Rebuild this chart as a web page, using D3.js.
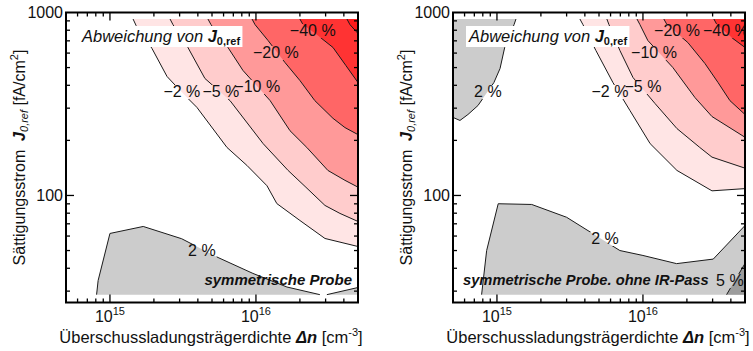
<!DOCTYPE html>
<html><head><meta charset="utf-8">
<script src="https://cdn.jsdelivr.net/npm/d3@7"></script>
<style>
html,body{margin:0;padding:0;background:#fff;}
svg{display:block;font-family:"Liberation Sans",Arial,Helvetica,sans-serif;}
</style></head><body>
<svg id="chart" width="753" height="351"></svg>
<script>
// ---- axes ----
const dnDomain = [5e14, 5e16];          // Überschussladungsträgerdichte [cm^-3]
const j0Domain = [26, 1000];            // Sättigungsstrom [fA/cm^2]
const gridDn = [5e14, 5e16];            // extent of the computed grid
const gridJ0 = [28.7, 921];
const xMajorTicks = [1e15, 1e16];
const xMajorExp = ["15", "16"];
const yMajorTicks = [100, 1000];
const yMajorLabels = ["100", "1000"];

// ---- fill colours per contour level (%) ----
const levelColors = {"-2": "#ffe5e5", "-5": "#ffcccc", "-10": "#ff9999", "-20": "#ff6666",
                     "-40": "#ff3333", "-60": "#ff1a1a", "2": "#cccccc", "5": "#9c9c9c"};

// ---- panel 1: symmetrische Probe ----
const symM2  = [[1.44e15,921],[1.51e15,849],[1.94e15,636],[2.46e15,447],[3.11e15,366],[3.94e15,303],[6.33e15,183],[8.67e15,146],[1.19e16,113],[1.39e16,90.3],[2.0e16,73.0],[2.97e16,58.2],[5e16,52.6]];
const symM5  = [[2.58e15,921],[2.70e15,859],[3.42e15,644],[4.47e15,436],[6.64e15,330],[1.12e16,192],[1.66e16,137],[2.17e16,112],[2.97e16,88.2],[3.76e16,79.8],[5e16,72.1]];
const symM10 = [[4.69e15,921],[4.92e15,859],[6.43e15,644],[8.15e15,482],[1.25e16,330],[1.71e16,226],[2.23e16,183],[3.11e16,137],[4.07e16,121],[5e16,111]];
const symM20 = [[9.4e15,921],[9.85e15,859],[1.21e16,703],[1.58e16,533],[2.0e16,425],[2.53e16,330],[3.37e16,264],[4.07e16,235],[5e16,215]];
const symM40 = [[2.0e16,921],[2.10e16,859],[2.66e16,748],[3.37e16,644],[4.13e16,513],[5e16,414]];
const symM60 = [[4.2e16,921],[4.40e16,859],[5e16,768]];
const symP2a = [[8.1e14,28.7],[8.3e14,34.3],[1.0e15,62.0],[1.69e15,67.7],[3.10e15,58.0],[5.5e15,45.8],[9.53e15,37.5],[1.63e16,31.6],[2.74e16,28.7]];
const symP2b = [[3.06e16,28.7],[5e16,31.4]];
const symLabels = [
  {t:"\u22122 %", dn:3.11e15, j0:370}, {t:"\u22125 %", dn:5.75e15, j0:370},
  {t:"\u221210 %", dn:1.02e16, j0:394}, {t:"\u221220 %", dn:1.37e16, j0:604},
  {t:"\u221240 %", dn:2.45e16, j0:798}, {t:"2 %", dn:4.26e15, j0:50.0}];

// ---- panel 2: symmetrische Probe, ohne IR-Pass ----
const irP2top = [[1.35e15,921],[1.31e15,859],[1.13e15,644],[1.05e15,494],[9.53e14,414],[7.41e14,310],[6.33e14,277],[5.58e14,257],[5e14,267]];
const irM2  = [[3.70e15,921],[3.88e15,859],[4.76e15,620],[6.23e15,414],[8.15e15,291],[1.12e16,192],[1.71e16,137],[2.97e16,106],[5e16,109]];
const irM5  = [[5.66e15,921],[5.85e15,859],[6.95e15,620],[8.55e15,441],[1.21e16,318],[1.71e16,232],[2.45e16,183],[2.97e16,162],[5e16,141]];
const irM10 = [[9.1e15,921],[9.53e15,859],[1.08e16,703],[1.60e16,501],[2.27e16,343],[2.97e16,270],[5e16,208]];
const irM20 = [[1.39e16,921],[1.46e16,859],[2.03e16,685],[2.66e16,526],[3.27e16,414],[3.94e16,330],[5e16,277]];
const irM40 = [[3.06e16,921],[3.21e16,859],[4.13e16,721],[5e16,644]];
const irP2b = [[7.85e14,28.7],[8.5e14,50.0],[1.02e15,90.1],[1.73e15,89.3],[3.0e15,76.0],[6.95e15,50.0],[1.0e16,47.0],[1.70e16,42.4],[3.03e16,44.9],[5e16,68.5]];
const irP5  = [[3.74e16,28.7],[5e16,42.5]];
const irLabels = [
  {t:"\u22122 %", dn:5.94e15, j0:370}, {t:"\u22125 %", dn:1.0e16, j0:394},
  {t:"\u221210 %", dn:1.19e16, j0:604}, {t:"\u221220 %", dn:1.71e16, j0:798},
  {t:"\u221240 %", dn:3.70e16, j0:798}, {t:"2 %", dn:8.67e14, j0:370},
  {t:"2 %", dn:5.5e15, j0:58.2}, {t:"5 %", dn:3.94e16, j0:34.3}];

// closing corners: "tr" top-right, "tl" top-left, "br" bottom-right, "b" along the bottom edge
const panels = [
  {x0: 66, regions: [
     {level:"-2", pts:symM2, close:"tr"}, {level:"-5", pts:symM5, close:"tr"},
     {level:"-10", pts:symM10, close:"tr"}, {level:"-20", pts:symM20, close:"tr"},
     {level:"-40", pts:symM40, close:"tr"}, {level:"-60", pts:symM60, close:"tr"},
     {level:"2", pts:symP2a, close:"b"}, {level:"2", pts:symP2b, close:"br"}],
   labels: symLabels, note: "symmetrische Probe", noteAnchor: "end"},
  {x0: 453, regions: [
     {level:"-2", pts:irM2, close:"tr"}, {level:"-5", pts:irM5, close:"tr"},
     {level:"-10", pts:irM10, close:"tr"}, {level:"-20", pts:irM20, close:"tr"},
     {level:"-40", pts:irM40, close:"tr"},
     {level:"2", pts:irP2top, close:"tl"}, {level:"2", pts:irP2b, close:"br"},
     {level:"5", pts:irP5, close:"br"}],
   labels: irLabels, note: "symmetrische Probe. ohne IR-Pass", noteAnchor: "start"}
];

const plotW = 292, plotTop = 12.5, plotH = 290;
const svg = d3.select("#chart");
const defs = svg.append("defs");

panels.forEach((p, pi) => {
  const x = d3.scaleLog().domain(dnDomain).range([p.x0, p.x0 + plotW]);
  const y = d3.scaleLog().domain(j0Domain).range([plotTop + plotH, plotTop]);
  const g = svg.append("g");

  defs.append("clipPath").attr("id", "clip" + pi).append("rect")
    .attr("x", p.x0).attr("y", plotTop).attr("width", plotW).attr("height", plotH);

  const corner = {
    tr: [[gridDn[1], gridJ0[1]]],
    tl: [[gridDn[0], gridJ0[1]]],
    br: [[gridDn[1], gridJ0[0]]],
    b: []
  };
  const line = d3.line().x(d => x(d[0])).y(d => y(d[1]));

  const plot = g.append("g").attr("clip-path", `url(#clip${pi})`);
  const fills = plot.append("g");
  p.regions.forEach(r => {
    fills.append("path")
      .attr("d", line(r.pts.concat(corner[r.close])) + "Z")
      .attr("fill", levelColors[r.level]).attr("stroke", "none");
  });

  // contour lines, interrupted under their labels
  const mask = defs.append("mask").attr("id", "mask" + pi).attr("maskUnits", "userSpaceOnUse");
  mask.append("rect").attr("x", 0).attr("y", 0).attr("width", 753).attr("height", 351).attr("fill", "#fff");
  const lines = plot.append("g").attr("mask", `url(#mask${pi})`);
  p.regions.forEach(r => {
    lines.append("path").attr("d", line(r.pts)).attr("fill", "none")
      .attr("stroke", "#1a1a1a").attr("stroke-width", 1);
  });

  const labG = plot.append("g");
  p.labels.forEach(l => {
    const t = labG.append("text").attr("x", x(l.dn)).attr("y", y(l.j0))
      .attr("text-anchor", "middle").attr("dominant-baseline", "central")
      .attr("font-size", 16).attr("fill", "#111").text(l.t);
    const b = t.node().getBBox();
    mask.append("rect").attr("x", b.x - 1).attr("y", b.y + 2)
      .attr("width", b.width + 2).attr("height", b.height - 3).attr("fill", "#000");
  });

  // legend caption box
  const cap = plot.append("g");
  const capRect = cap.append("rect").attr("fill", "#fff");
  const capText = cap.append("text").attr("x", p.x0 + 16).attr("y", 42)
    .attr("font-size", 16.5).attr("font-style", "italic").attr("fill", "#111");
  capText.append("tspan").text("Abweichung von ");
  capText.append("tspan").attr("font-weight", "bold").text("J");
  capText.append("tspan").attr("font-weight", "bold").attr("font-style", "normal")
    .attr("font-size", 11).attr("dy", 3).text("0,ref");
  const cb = capText.node().getBBox();
  capRect.attr("x", cb.x - 2).attr("y", 26).attr("width", cb.width + 4).attr("height", 21);

  // sample note
  plot.append("text")
    .attr("x", p.noteAnchor === "end" ? p.x0 + plotW - 6 : p.x0 + 10).attr("y", 285)
    .attr("text-anchor", p.noteAnchor)
    .attr("font-size", p.noteAnchor === "end" ? 15 : 14.7)
    .attr("font-weight", "bold").attr("font-style", "italic")
    .attr("fill", "#111").text(p.note);

  // frame
  g.append("rect").attr("x", p.x0).attr("y", plotTop).attr("width", plotW).attr("height", plotH)
    .attr("fill", "none").attr("stroke", "#000").attr("stroke-width", 2);

  // inward ticks on all four sides
  const xt = x.ticks(), yt = y.ticks();
  const isMajX = v => xMajorTicks.some(m => Math.abs(m - v) / m < 1e-6);
  const isMajY = v => yMajorTicks.some(m => Math.abs(m - v) / m < 1e-6);
  const tk = g.append("g").attr("stroke", "#000").attr("stroke-width", 1.3);
  xt.filter(v => v > dnDomain[0] * 1.001 && v < dnDomain[1] * 0.999).forEach(v => {
    const L = isMajX(v) ? 8 : 4;
    tk.append("line").attr("x1", x(v)).attr("x2", x(v)).attr("y1", plotTop + plotH).attr("y2", plotTop + plotH - L);
    tk.append("line").attr("x1", x(v)).attr("x2", x(v)).attr("y1", plotTop).attr("y2", plotTop + L);
  });
  yt.filter(v => v > j0Domain[0] * 1.001 && v < j0Domain[1] * 0.999).forEach(v => {
    const L = isMajY(v) ? 8 : 4;
    tk.append("line").attr("y1", y(v)).attr("y2", y(v)).attr("x1", p.x0).attr("x2", p.x0 + L);
    tk.append("line").attr("y1", y(v)).attr("y2", y(v)).attr("x1", p.x0 + plotW).attr("x2", p.x0 + plotW - L);
  });

  // tick labels
  xMajorTicks.forEach((v, i) => {
    const t = g.append("text").attr("x", x(v)).attr("y", 322).attr("text-anchor", "middle")
      .attr("font-size", 16).attr("fill", "#111");
    t.append("tspan").text("10");
    t.append("tspan").attr("font-size", 11).attr("dy", -7).text(xMajorExp[i]);
  });
  yMajorTicks.forEach((v, i) => {
    g.append("text").attr("x", p.x0 - 3).attr("y", y(v)).attr("dominant-baseline", "central")
      .attr("text-anchor", "end").attr("font-size", 16).attr("fill", "#111").text(yMajorLabels[i]);
  });

  // axis titles
  const xt2 = g.append("text").attr("x", p.x0 + plotW / 2 - 1).attr("y", 343)
    .attr("text-anchor", "middle").attr("font-size", 16.5).attr("fill", "#111");
  xt2.append("tspan").text("Überschussladungsträgerdichte ");
  xt2.append("tspan").attr("font-weight", "bold").attr("font-style", "italic").text("Δn");
  xt2.append("tspan").text(" [cm");
  xt2.append("tspan").attr("font-size", 11).attr("dy", -7).text("-3");
  xt2.append("tspan").attr("dy", 7).text("]");

  const yt2 = g.append("text")
    .attr("transform", `translate(${p.x0 - 41},${plotTop + plotH / 2}) rotate(-90)`)
    .attr("text-anchor", "middle").attr("font-size", 16).attr("fill", "#111");
  yt2.append("tspan").text("Sättigungsstrom\u00a0 ");
  yt2.append("tspan").attr("font-weight", "bold").attr("font-style", "italic").text("J");
  yt2.append("tspan").attr("font-style", "italic").attr("font-size", 11).attr("dy", 3).text("0,ref");
  yt2.append("tspan").attr("dy", -3).text(" [fA/cm");
  yt2.append("tspan").attr("font-size", 11).attr("dy", -7).text("2");
  yt2.append("tspan").attr("dy", 7).text("]");
});
</script>
</body></html>
